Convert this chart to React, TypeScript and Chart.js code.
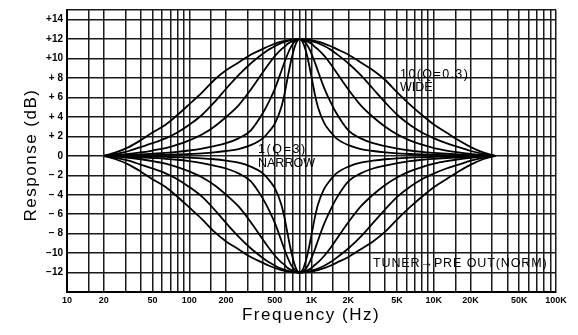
import React, { useEffect, useRef } from "react";
import { Chart, registerables } from "chart.js";

Chart.register(...registerables);

// Sample frequencies (Hz) at which the curves were read
const freqHz = [
  20, 25, 32, 40, 50, 64, 80, 100, 127, 160, 200, 253, 318, 400, 450, 505, 566, 600, 635, 673, 713, 755, 800,
  847, 898, 951, 1007, 1067, 1130, 1268, 1423, 1596, 2009, 2530, 3185, 4009, 5048, 6355, 8000, 10071, 12679,
  15962, 20095, 25298, 31848,
];

// Boost curves (dB), narrowest (1, Q=3) to widest (10, Q=0.3)
const boostNarrow = [
  0, 0.02, 0.04, 0.06, 0.08, 0.11, 0.14, 0.19, 0.25, 0.35, 0.5, 0.7, 1.1, 1.8, 2.5, 3.4, 5.0, 6.3, 7.9, 9.5, 10.8, 11.7, 12,
  11.7, 10.8, 9.5, 7.9, 6.3, 5.0, 3.4, 2.5, 1.8, 1.1, 0.7, 0.5, 0.35, 0.25, 0.19, 0.14, 0.11, 0.08, 0.06, 0.04, 0.02, 0,
];
const boostMidNarrow = [
  0, 0.04, 0.09, 0.15, 0.22, 0.3, 0.4, 0.55, 0.75, 1.0, 1.3, 1.8, 2.6, 4.4, 5.6, 7.0, 8.7, 9.6, 10.4, 11.1, 11.6, 11.9, 12,
  11.9, 11.6, 11.1, 10.4, 9.6, 8.7, 7.0, 5.6, 4.4, 2.6, 1.8, 1.3, 1.0, 0.75, 0.55, 0.4, 0.3, 0.22, 0.15, 0.09, 0.04, 0,
];
const boostMid = [
  0, 0.08, 0.2, 0.35, 0.55, 0.8, 1.15, 1.6, 2.2, 3.0, 4.0, 5.2, 6.8, 8.6, 9.5, 10.3, 10.95, 11.2, 11.5, 11.7, 11.85, 11.95, 12,
  11.95, 11.85, 11.7, 11.5, 11.2, 10.95, 10.3, 9.5, 8.6, 6.8, 5.2, 4.0, 3.0, 2.2, 1.6, 1.15, 0.8, 0.55, 0.35, 0.2, 0.08, 0,
];
const boostMidWide = [
  0, 0.2, 0.5, 0.9, 1.3, 1.8, 2.4, 3.2, 4.2, 5.5, 6.9, 8.3, 9.5, 10.5, 10.95, 11.3, 11.6, 11.7, 11.8, 11.88, 11.94, 11.98, 12,
  11.98, 11.94, 11.88, 11.8, 11.7, 11.6, 11.3, 10.95, 10.5, 9.5, 8.3, 6.9, 5.5, 4.2, 3.2, 2.4, 1.8, 1.3, 0.9, 0.5, 0.2, 0,
];
const boostWide = [
  0, 0.35, 0.9, 1.6, 2.4, 3.2, 4.2, 5.3, 6.5, 7.8, 8.8, 9.6, 10.4, 11.0, 11.3, 11.55, 11.75, 11.82, 11.88, 11.93, 11.97, 11.99, 12,
  11.99, 11.97, 11.93, 11.88, 11.82, 11.75, 11.55, 11.3, 11.0, 10.4, 9.6, 8.8, 7.8, 6.5, 5.3, 4.2, 3.2, 2.4, 1.6, 0.9, 0.35, 0,
];

// Cut curves (dB)
const cutNarrow = [
  0, -0.02, -0.04, -0.06, -0.08, -0.11, -0.14, -0.19, -0.25, -0.35, -0.5, -0.7, -1.1, -1.8, -2.5, -3.4, -5.0, -6.3, -7.9, -9.5, -10.8, -11.7, -12,
  -11.7, -10.8, -9.5, -7.9, -6.3, -5.0, -3.4, -2.5, -1.8, -1.1, -0.7, -0.5, -0.35, -0.25, -0.19, -0.14, -0.11, -0.08, -0.06, -0.04, -0.02, 0,
];
const cutMidNarrow = [
  0, -0.04, -0.09, -0.15, -0.22, -0.3, -0.4, -0.55, -0.75, -1.0, -1.3, -1.8, -2.6, -4.4, -5.6, -7.0, -8.7, -9.6, -10.4, -11.1, -11.6, -11.9, -12,
  -11.9, -11.6, -11.1, -10.4, -9.6, -8.7, -7.0, -5.6, -4.4, -2.6, -1.8, -1.3, -1.0, -0.75, -0.55, -0.4, -0.3, -0.22, -0.15, -0.09, -0.04, 0,
];
const cutMid = [
  0, -0.08, -0.2, -0.35, -0.55, -0.8, -1.15, -1.6, -2.2, -3.0, -4.0, -5.2, -6.8, -8.6, -9.5, -10.3, -10.95, -11.2, -11.5, -11.7, -11.85, -11.95, -12,
  -11.95, -11.85, -11.7, -11.5, -11.2, -10.95, -10.3, -9.5, -8.6, -6.8, -5.2, -4.0, -3.0, -2.2, -1.6, -1.15, -0.8, -0.55, -0.35, -0.2, -0.08, 0,
];
const cutMidWide = [
  0, -0.2, -0.5, -0.9, -1.3, -1.8, -2.4, -3.2, -4.2, -5.5, -6.9, -8.3, -9.5, -10.5, -10.95, -11.3, -11.6, -11.7, -11.8, -11.88, -11.94, -11.98, -12,
  -11.98, -11.94, -11.88, -11.8, -11.7, -11.6, -11.3, -10.95, -10.5, -9.5, -8.3, -6.9, -5.5, -4.2, -3.2, -2.4, -1.8, -1.3, -0.9, -0.5, -0.2, 0,
];
const cutWide = [
  0, -0.35, -0.9, -1.6, -2.4, -3.2, -4.2, -5.3, -6.5, -7.8, -8.8, -9.6, -10.4, -11.0, -11.3, -11.55, -11.75, -11.82, -11.88, -11.93, -11.97, -11.99, -12,
  -11.99, -11.97, -11.93, -11.88, -11.82, -11.75, -11.55, -11.3, -11.0, -10.4, -9.6, -8.8, -7.8, -6.5, -5.3, -4.2, -3.2, -2.4, -1.6, -0.9, -0.35, 0,
];

const curveSeries = [
  boostNarrow, boostMidNarrow, boostMid, boostMidWide, boostWide,
  cutNarrow, cutMidNarrow, cutMid, cutMidWide, cutWide,
];

// Axes
const xGridHz = [
  10, 15, 20, 30, 40, 50, 60, 70, 80, 90,
  100, 150, 200, 300, 400, 500, 600, 700, 800, 900,
  1000, 1500, 2000, 3000, 4000, 5000, 6000, 7000, 8000, 9000,
  10000, 15000, 20000, 30000, 40000, 50000, 60000, 70000, 80000, 90000, 100000,
];
const xLabelHz = [10, 20, 50, 100, 200, 500, 1000, 2000, 5000, 10000, 20000, 50000, 100000];
const xLabelText = ["10", "20", "50", "100", "200", "500", "1K", "2K", "5K", "10K", "20K", "50K", "100K"];

const yGridDb = [-14, -12, -10, -8, -6, -4, -2, 0, 2, 4, 6, 8, 10, 12, 14, 15];
const yLabelDb = [-12, -10, -8, -6, -4, -2, 0, 2, 4, 6, 8, 10, 12, 14];
const yLabelText = ["−12", "−10", "− 8", "− 6", "− 4", "− 2", "0", "+ 2", "+ 4", "+ 6", "+ 8", "+10", "+12", "+14"];

// In-plot annotations: text, anchor frequency (Hz), anchor level (dB)
const noteText = ["1(Q=3)", "NARROW", "10(Q=0.3)", "WIDE", "TUNER→PRE OUT(NORM)"];
const noteHz = [365, 365, 5300, 5300, 3180];
const noteDb = [0.3, -1.15, 8.0, 6.7, -11.45];

const FONT = '"Liberation Sans", Arial, sans-serif';

export default function App() {
  const ref = useRef<HTMLCanvasElement | null>(null);

  useEffect(() => {
    if (!ref.current) return;

    const textPlugin = {
      id: "texts",
      afterDraw(chart: any) {
        const ctx = chart.ctx;
        const xs = chart.scales.x;
        const ys = chart.scales.y;
        ctx.save();
        ctx.fillStyle = "#000";

        // annotations
        ctx.textAlign = "left";
        ctx.textBaseline = "alphabetic";
        ctx.font = `12.5px ${FONT}`;
        const spacing = ["1.6px", "0px", "1.4px", "0px", "0.9px"];
        noteText.forEach((t, i) => {
          (ctx as any).letterSpacing = spacing[i];
          ctx.fillText(t, xs.getPixelForValue(noteHz[i]), ys.getPixelForValue(noteDb[i]));
        });

        // axis titles
        ctx.font = `17px ${FONT}`;
        (ctx as any).letterSpacing = "1.5px";
        ctx.textAlign = "center";
        ctx.fillText("Frequency (Hz)", 311, 320);

        ctx.save();
        ctx.translate(36, 155);
        ctx.rotate(-Math.PI / 2);
        ctx.fillText("Response (dB)", 0, 0);
        ctx.restore();

        ctx.restore();
      },
    };

    const chart = new Chart(ref.current, {
      type: "line",
      data: {
        datasets: curveSeries.map((vals) => ({
          data: freqHz.map((f, i) => ({ x: f, y: vals[i] })),
          borderColor: "#000",
          borderWidth: 1.8,
          pointRadius: 0,
          fill: false,
          cubicInterpolationMode: "monotone" as const,
        })),
      },
      options: {
        animation: false,
        responsive: true,
        maintainAspectRatio: false,
        layout: { padding: { top: 8, right: 22, left: 0, bottom: 0 } },
        plugins: { legend: { display: false }, tooltip: { enabled: false }, title: { display: false } },
        scales: {
          x: {
            type: "logarithmic",
            min: 10,
            max: 100000,
            afterBuildTicks: (s: any) => {
              s.ticks = xGridHz.map((v) => ({ value: v }));
            },
            afterFit: (s: any) => {
              s.height = 43;
            },
            ticks: {
              autoSkip: false,
              maxRotation: 0,
              minRotation: 0,
              padding: 3,
              color: "#000",
              font: { family: FONT, weight: "bold", size: 9 },
              callback: (v: any) => {
                const i = xLabelHz.indexOf(Number(v));
                return i >= 0 ? xLabelText[i] : "";
              },
            },
            grid: { color: "#1a1a1a", lineWidth: 1.5, drawTicks: false },
            border: { color: "#000", width: 2 },
          },
          y: {
            type: "linear",
            min: -14,
            max: 15,
            afterBuildTicks: (s: any) => {
              s.ticks = yGridDb.map((v) => ({ value: v }));
            },
            afterFit: (s: any) => {
              s.width = 67;
            },
            ticks: {
              autoSkip: false,
              padding: 4,
              color: "#000",
              font: { family: FONT, weight: "bold", size: 10 },
              callback: (v: any) => {
                const i = yLabelDb.indexOf(Number(v));
                return i >= 0 ? yLabelText[i] : "";
              },
            },
            grid: { color: "#1a1a1a", lineWidth: 1.5, drawTicks: false },
            border: { color: "#000", width: 2 },
          },
        },
      },
      plugins: [textPlugin],
    });

    return () => chart.destroy();
  }, []);

  return (
    <div style={{ position: "fixed", left: 0, top: 0, width: 578, height: 335, background: "#fff" }}>
      <canvas ref={ref} />
    </div>
  );
}
